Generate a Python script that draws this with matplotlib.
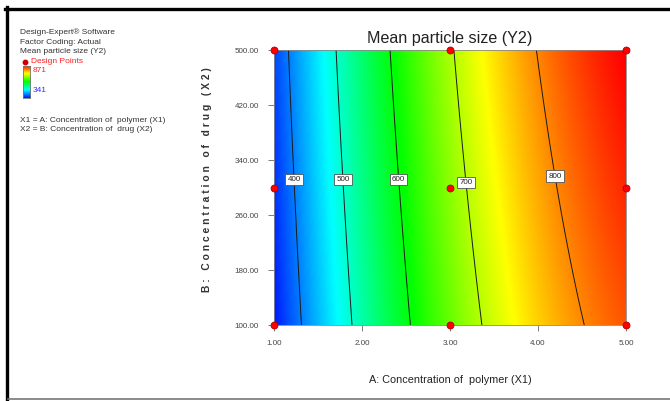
import numpy as np
import matplotlib
matplotlib.use("Agg")
import matplotlib.pyplot as plt
from matplotlib.colors import LinearSegmentedColormap
from matplotlib.lines import Line2D

plt.rcParams['font.family'] = ['Liberation Sans', 'DejaVu Sans']

# Design points (A: polymer, B: drug) and measured mean particle size (Y2)
polymer = [1.0, 3.0, 5.0]
drug = [100.0, 300.0, 500.0]
size_y2 = [
    [341, 356, 368],   # A = 1
    [659, 677, 695],   # A = 3
    [826, 850, 871],   # A = 5
]
contour_levels = [400, 500, 600, 700, 800]
label_drug = [311, 311, 311, 307, 317]   # where along B each contour label sits
x_ticks = [1.0, 2.0, 3.0, 4.0, 5.0]
y_ticks = [100.0, 180.0, 260.0, 340.0, 420.0, 500.0]

# quadratic response surface fitted to the design points
A, B = np.meshgrid(polymer, drug, indexing='ij')
Y = np.array(size_y2, dtype=float)
def terms(a, b):
    return np.column_stack([np.ones_like(a), a, b, a * b, a ** 2, b ** 2])
coef, *_ = np.linalg.lstsq(terms(A.ravel(), B.ravel()), Y.ravel(), rcond=None)

ga = np.linspace(1, 5, 400)
gb = np.linspace(100, 500, 300)
GA, GB = np.meshgrid(ga, gb)
GY = (terms(GA.ravel(), GB.ravel()) @ coef).reshape(GA.shape)

vmin, vmax = Y.min(), Y.max()
de_cmap = LinearSegmentedColormap.from_list(
    'de', ['#0018ff', '#00ffff', '#00ff00', '#ffff00', '#ff0000'])

fig = plt.figure(figsize=(6.7, 4.01), dpi=100)
ax = fig.add_axes([0.4094, 0.1895, 0.5249, 0.6858])
ax.imshow(GY, origin='lower', extent=[1, 5, 100, 500], aspect='auto',
          cmap=de_cmap, vmin=vmin, vmax=vmax, interpolation='bilinear')
cs = ax.contour(GA, GB, GY, levels=contour_levels, colors='#1a1a1a', linewidths=0.7)

# horizontal boxed labels on each contour line
for lev, bpos, seg in zip(contour_levels, label_drug, cs.allsegs):
    pts = np.vstack(seg)
    i = np.argmin(np.abs(pts[:, 1] - bpos))
    ax.text(pts[i, 0], pts[i, 1], str(lev), fontsize=5.8, ha='center', va='center',
            color='#222222', zorder=5,
            bbox=dict(boxstyle='square,pad=0.25', facecolor='white',
                      edgecolor='#555555', linewidth=0.6))

ax.plot(A.ravel(), B.ravel(), 'o', color='#ff0000', markeredgecolor='#b00000',
        markersize=5, markeredgewidth=0.6, clip_on=False, zorder=6)

ax.set_xlim(1, 5)
ax.set_ylim(100, 500)
ax.set_xticks(x_ticks)
ax.set_xticklabels(['%.2f' % v for v in x_ticks])
ax.set_yticks(y_ticks)
ax.set_yticklabels(['%.2f' % v for v in y_ticks])
ax.tick_params(direction='out', length=4, width=0.6, color='#666666',
               labelsize=5.8, labelcolor='#444444', pad=7)
for sp in ax.spines.values():
    sp.set_color('#888888')
    sp.set_linewidth(0.6)

ax.set_title('Mean particle size (Y2)', fontsize=11.6, color='#222222', pad=5)
ax.set_xlabel('A: Concentration of  polymer (X1)', fontsize=7.8, color='#222222',
              labelpad=20)
ylab = '\u2009\u200a'.join('B: Concentration of drug (X2)')
fig.text(207.5 / 670, 1 - 180 / 401, ylab, rotation=90, fontsize=7.4,
         fontweight='bold', color='#333333', ha='center', va='center')

# info block on the left
tc = '#333333'
fs = 6.0
fx = 20 / 670
for ypx, s in [(32, 'Design-Expert\u00ae Software'), (42, 'Factor Coding: Actual'),
               (51.5, 'Mean particle size (Y2)')]:
    fig.text(fx, 1 - ypx / 401, s, fontsize=fs, color=tc, va='center')
fig.add_artist(Line2D([25 / 670], [1 - 61.5 / 401], marker='o', color='#cc0000',
                      markersize=3.2, linestyle='none'))
fig.text(31 / 670, 1 - 61.5 / 401, 'Design Points', fontsize=fs, color='#ff2020', va='center')

cax = fig.add_axes([22.7 / 670, 1 - 98.3 / 401, 7.3 / 670, 32.6 / 401])
cax.imshow(np.linspace(vmin, vmax, 100)[:, None], origin='lower', aspect='auto',
           cmap=de_cmap, vmin=vmin, vmax=vmax)
cax.set_xticks([])
cax.set_yticks([])
for sp in cax.spines.values():
    sp.set_color('#777777')
    sp.set_linewidth(0.6)
fig.text(32.7 / 670, 1 - 71 / 401, '%d' % vmax, fontsize=fs, color='#ff2020', va='center')
fig.text(32.7 / 670, 1 - 90.7 / 401, '%d' % vmin, fontsize=fs, color='#3030ff', va='center')

fig.text(fx, 1 - 120 / 401, 'X1 = A: Concentration of  polymer (X1)', fontsize=fs,
         color=tc, va='center')
fig.text(fx, 1 - 129.5 / 401, 'X2 = B: Concentration of  drug (X2)', fontsize=fs,
         color=tc, va='center')

# frame around the figure
fig.add_artist(Line2D([6.5 / 670, 6.5 / 670], [1 - 399 / 401, 1 - 7 / 401],
                      color='black', linewidth=2.4))
fig.add_artist(Line2D([5 / 670, 1], [1 - 8.5 / 401, 1 - 8.5 / 401],
                      color='black', linewidth=2.4))
fig.add_artist(Line2D([8 / 670, 1], [1 - 398.5 / 401, 1 - 398.5 / 401],
                      color='#777777', linewidth=1.2))

fig.savefig('out.png', dpi=100, facecolor='white')
